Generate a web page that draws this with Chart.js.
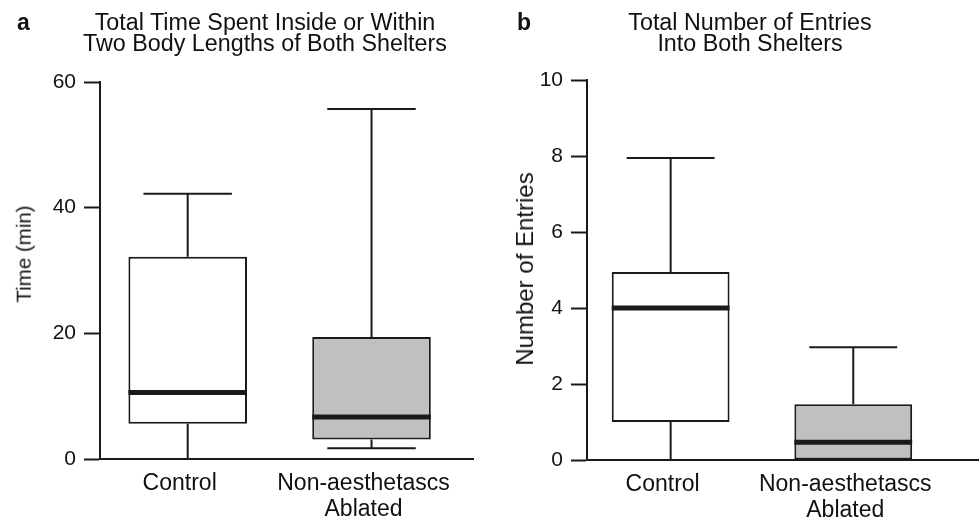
<!DOCTYPE html>
<html>
<head>
<meta charset="utf-8">
<script src="https://cdn.jsdelivr.net/npm/chart.js@4.4.1/dist/chart.umd.min.js"></script>
<style>
  html, body { margin: 0; padding: 0; background: #fff; }
  body { width: 980px; height: 523px; position: relative; overflow: hidden;
         font-family: "Liberation Sans", Arial, sans-serif; color: #111; }
  .panel { position: absolute; top: 0; width: 490px; height: 523px; }
  .letter { position: absolute; top: 11px; font-weight: bold; font-size: 23px; line-height: 23px; }
  .title { position: absolute; top: 12px; width: 460px; text-align: center;
           font-size: 23.3px; line-height: 20.6px; }
  .ytitle { position: absolute; white-space: nowrap; line-height: 1;
            transform: translate(-50%, -50%) rotate(-90deg); }
</style>
</head>
<body>
<div class="panel" style="left:0"><canvas id="graficoA" width="490" height="523"></canvas></div>
<div class="panel" style="left:490px"><canvas id="graficoB" width="490" height="523"></canvas></div>
<div class="letter" style="left:17px">a</div>
<div class="title" style="left:35px">Total Time Spent Inside or Within<br>Two Body Lengths of Both Shelters</div>
<div class="ytitle" style="left:24px; top:254px; font-size:20.5px">Time (min)</div>
<div class="letter" style="left:517px">b</div>
<div class="title" style="left:520px">Total Number of Entries<br>Into Both Shelters</div>
<div class="ytitle" style="left:525px; top:269px; font-size:24px">Number of Entries</div>

<script>
// categories (x axis)
const categories = ['Control', ['Non-aesthetascs', 'Ablated']];

// panel a - time (min)
const timeMin = [0, 1.7];
const timeQ1 = [5.6, 3.1];
const timeMedian = [10.6, 6.7];
const timeQ3 = [32.2, 19.4];
const timeMax = [42.2, 55.7];
const timeTicks = [0, 20, 40, 60];

// panel b - number of entries
const entriesMin = [0, 0];
const entriesQ1 = [1, 0];
const entriesMedian = [4, 0.47];
const entriesQ3 = [4.95, 1.47];
const entriesMax = [7.95, 2.97];
const entriesTicks = [0, 2, 4, 6, 8, 10];

const boxColors = ['#ffffff', '#bfc0c2'];
const lineColor = '#1a1a1a';
const textColor = '#111';
const fontFamily = '"Liberation Sans", Arial, sans-serif';

// whiskers behind the boxes, medians on top
const boxWhisker = {
  id: 'boxWhisker',
  beforeDatasetsDraw(chart, args, opts) {
    const y = chart.scales.y;
    const bars = chart.getDatasetMeta(0).data;
    const ctx = chart.ctx;
    ctx.save();
    ctx.strokeStyle = lineColor;
    ctx.lineWidth = 2;
    bars.forEach((bar, i) => {
      const x = bar.x;
      const half = bar.width * 0.373;
      const yMin = y.getPixelForValue(opts.min[i]);
      const yQ1 = y.getPixelForValue(opts.q1[i]);
      const yQ3 = y.getPixelForValue(opts.q3[i]);
      const yMax = y.getPixelForValue(opts.max[i]);
      ctx.beginPath();
      ctx.moveTo(x, yMax); ctx.lineTo(x, yQ3);
      ctx.moveTo(x, yQ1); ctx.lineTo(x, yMin);
      ctx.moveTo(x - half, yMax); ctx.lineTo(x + half, yMax);
      ctx.moveTo(x - half, yMin); ctx.lineTo(x + half, yMin);
      ctx.stroke();
    });
    ctx.restore();
  },
  afterDatasetsDraw(chart, args, opts) {
    const y = chart.scales.y;
    const bars = chart.getDatasetMeta(0).data;
    const ctx = chart.ctx;
    ctx.save();
    ctx.strokeStyle = lineColor;
    ctx.lineWidth = 5;
    bars.forEach((bar, i) => {
      const ym = y.getPixelForValue(opts.median[i]);
      ctx.beginPath();
      ctx.moveTo(bar.x - bar.width / 2, ym);
      ctx.lineTo(bar.x + bar.width / 2, ym);
      ctx.stroke();
    });
    ctx.restore();
  }
};

function desenharGrafico(id, s) {
  return new Chart(document.getElementById(id), {
    type: 'bar',
    data: {
      datasets: [{
        data: categories.map((c, i) => ({ x: i + 1, y: [s.q1[i], s.q3[i]] })),
        backgroundColor: boxColors,
        borderColor: lineColor,
        borderWidth: 2,
        borderSkipped: false,
        barPercentage: 0.645,
        categoryPercentage: 1
      }]
    },
    options: {
      responsive: false,
      animation: false,
      layout: { padding: s.padding },
      plugins: {
        legend: { display: false },
        tooltip: { enabled: false },
        boxWhisker: s
      },
      scales: {
        x: {
          type: 'linear',
          min: s.xMin,
          max: s.xMax,
          offset: false,
          afterBuildTicks: sc => { sc.ticks = categories.map((c, i) => ({ value: i + 1 })); },
          afterFit: sc => { sc.height = s.xHeight; },
          border: { display: true, color: lineColor, width: 2 },
          grid: { display: false },
          ticks: {
            autoSkip: false,
            maxRotation: 0,
            color: textColor,
            padding: 4,
            labelOffset: -8,
            font: { family: fontFamily, size: 23, lineHeight: 1.13 },
            callback: v => categories[v - 1]
          }
        },
        y: {
          min: s.ticks[0],
          max: s.ticks[s.ticks.length - 1],
          afterBuildTicks: sc => { sc.ticks = s.ticks.map(v => ({ value: v })); },
          afterFit: sc => { sc.width = s.yWidth; },
          border: { display: true, color: lineColor, width: 2 },
          grid: { display: true, drawOnChartArea: false, drawTicks: true, tickLength: 16,
                  tickWidth: 2, tickColor: lineColor },
          ticks: { color: textColor, padding: 8, font: { family: fontFamily, size: 21 } }
        }
      }
    },
    plugins: [boxWhisker]
  });
}

desenharGrafico('graficoA', {
  min: timeMin, q1: timeQ1, median: timeMedian, q3: timeQ3, max: timeMax,
  ticks: timeTicks,
  xMin: 0.523, xMax: 2.552, xHeight: 64, yWidth: 100,
  padding: { top: 82, right: 17, left: 0, bottom: 0 }
});

desenharGrafico('graficoB', {
  min: entriesMin, q1: entriesQ1, median: entriesMedian, q3: entriesQ3, max: entriesMax,
  ticks: entriesTicks,
  xMin: 0.542, xMax: 2.683, xHeight: 63, yWidth: 97,
  padding: { top: 80, right: 2, left: 0, bottom: 0 }
});
</script>
</body>
</html>
